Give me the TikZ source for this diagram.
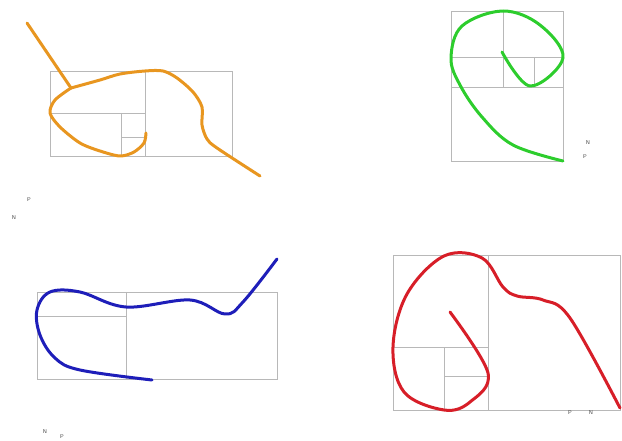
\documentclass[tikz,border=0pt]{standalone}
\usepackage{tikz}
\usetikzlibrary{positioning}
\definecolor{spiralorange}{RGB}{232,150,32}
\definecolor{spiralgreen}{RGB}{45,205,45}
\definecolor{spiralblue}{RGB}{30,30,185}
\definecolor{spiralred}{RGB}{215,30,40}
\tikzset{
  guide/.style={draw=black!28,line width=0.6pt},
  curve/.style={line width=3pt,line cap=round,line join=round},
  tag/.style={font=\sffamily\fontsize{5.5}{6}\selectfont,text=black!75,inner sep=0pt}
}
\begin{document}
\begin{tikzpicture}[x=1pt,y=-1pt]
\useasboundingbox (0,0) rectangle (622,441);
% orange panel
\draw[guide] (50,71) rectangle (232,156);
\draw[guide] (145,71)--(145,156) (50,113)--(145,113) (121,113)--(121,156) (121,137)--(145,137);
\draw[curve,spiralorange] (27,23)--(71,88);
\draw[curve,spiralorange] plot[smooth,tension=.5] coordinates {(146,133) (144,143) (134,152) (120,156) (100,151) (80,143) (60,127) (50,113) (55,100) (71,88)};
\draw[curve,spiralorange] plot[smooth,tension=.5] coordinates {(71,88) (100,80) (120,74) (145,71) (163,71) (177,78) (193,92) (202,107) (202,125) (207,139) (217,148) (260,176)};
\node[tag] (pa) at (29,200) {P};
\node[tag] (na) at (14,218) {N};
% green panel
\draw[guide] (451,11) rectangle (563,161);
\draw[guide] (451,87)--(563,87) (503,11)--(503,87) (451,57)--(563,57) (534,57)--(534,87);
\draw[curve,spiralgreen] plot[smooth,tension=.6] coordinates {(502,52) (530,86) (563,58) (540,25) (503,11) (462,26) (451,58) (460,85) (482,117) (513,145) (563,161)};
\node[tag] (nb) at (588,143) {N};
\node[tag] (pb) at (585,157) {P};
% blue panel
\draw[guide] (37,292) rectangle (277,379);
\draw[guide] (126,292)--(126,379) (37,316)--(126,316);
\draw[curve,spiralblue] plot[smooth,tension=.6] coordinates {(277,259) (243,302) (225,314) (190,300) (126,307) (80,292) (50,292) (37,310) (40,335) (55,358) (80,370) (152,380)};
\node[tag] (nc) at (45,432) {N};
\node[tag] (pc) at (62,437) {P};
% red panel
\draw[guide] (393,255) rectangle (620,410);
\draw[guide] (488,255)--(488,410) (393,347)--(488,347) (444,347)--(444,410) (444,376)--(488,376);
\draw[curve,spiralred] plot[smooth,tension=.6] coordinates {(450,312) (488,373) (470,402) (444,410) (404,392) (393,347) (407,294) (444,256) (482,258) (503,287) (517,296) (543,300) (570,318) (620,408)};
\node[tag] (pd) at (570,413) {P};
\node[tag] (nd) at (591,413) {N};
\end{tikzpicture}
\end{document}
